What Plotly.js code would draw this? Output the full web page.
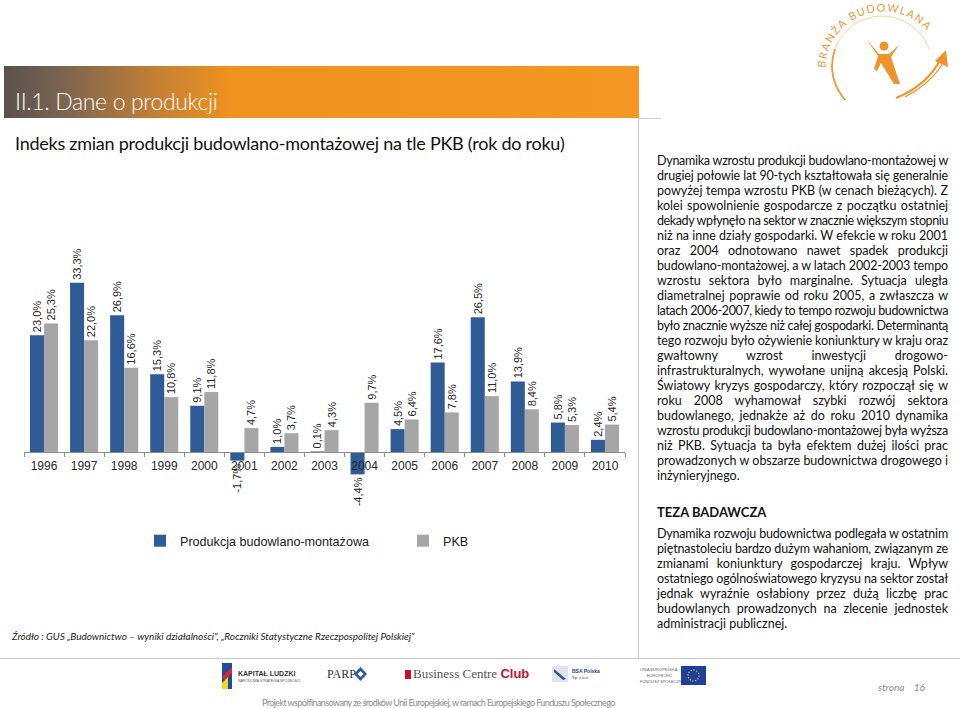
<!DOCTYPE html>
<html lang="pl">
<head>
<meta charset="utf-8">
<script src="https://cdn.plot.ly/plotly-3.0.1.min.js"></script>
<style>
  html, body { margin:0; padding:0; background:#fff; }
  body { width:960px; height:708px; position:relative; overflow:hidden; font-family:'Lato','Open Sans',sans-serif; }
  .abs { position:absolute; }
  #chart { position:absolute; left:0; top:0; width:960px; height:708px; }
  .line { position:absolute; white-space:nowrap; line-height:15px; }
  .col { font-size:12.5px; color:#111; }
</style>
</head>
<body>

<!-- header bar -->
<div class="abs" style="left:4px;top:66px;width:635px;height:52px;background:linear-gradient(to right,#5b514b 0%,#7a6450 9%,#c47f34 24%,#f0921f 36%,#f39622 100%);"></div>
<div class="abs line" data-fit="203" data-mode="exact" style="left:15px;top:86px;line-height:30px;font-size:23px;font-weight:300;color:#fff;"><span>II.1. Dane o produkcji</span></div>
<div class="abs line" data-fit="550" data-mode="exact" style="left:15px;top:131px;line-height:24px;font-size:18px;color:#111;"><span>Indeks zmian produkcji budowlano-montażowej na tle PKB (rok do roku)</span></div>

<!-- chart frame lines -->
<div class="abs" style="left:639px;top:118px;width:22px;height:1px;background:#cfcfcf;"></div>
<div class="abs" style="left:638px;top:118px;width:1px;height:541px;background:#cfcfcf;"></div>
<div class="abs" style="left:0px;top:658px;width:960px;height:1px;background:#c9c9c9;"></div>

<div id="chart"></div>

<!-- source -->
<div class="abs line" data-fit="403" data-mode="exact" style="left:12px;top:629px;font-size:10px;font-style:italic;color:#222;"><span>Źródło : GUS „Budownictwo – wyniki działalności”, „Roczniki Statystyczne Rzeczpospolitej Polskiej”</span></div>

<!-- right column text -->
<div id="txt1"></div>
<div class="abs line col" style="left:657px;top:505px;font-weight:700;font-size:13px;color:#111;">TEZA BADAWCZA</div>
<div id="txt2"></div>

<!-- top-right logo -->
<svg class="abs" style="left:810px;top:0px;" width="150" height="100" viewBox="810 0 150 100">
  <defs>
    <path id="arcText" d="M 825.5 68 A 58 58 0 0 1 941 62"/>
  </defs>
  <path d="M 835 49 A 50 50 0 0 0 882 116" fill="none" stroke="#ee9a3a" stroke-width="1.8"/>
  <path d="M 835 49 A 50 50 0 0 1 929 49" fill="none" stroke="#f5cfa3" stroke-width="0.9"/>
  <text font-family="Lato, sans-serif" font-size="10.8" fill="#ee9a3a" letter-spacing="1.4"><textPath href="#arcText">BRANŻA BUDOWLANA</textPath></text>
  <circle cx="884" cy="46" r="4.5" fill="#f0932a"/>
  <path d="M 867 40 L 879 54 L 889 54 L 899 45 L 891 57 L 900 84 L 894 84 L 881 63 L 877 71 L 874 69 L 878 56 Z" fill="#f0932a"/>
  <path d="M 896 98 Q 928 85 941 58" fill="none" stroke="#f0932a" stroke-width="2"/>
  <path d="M 905 97 Q 933 82 944 61" fill="none" stroke="#f0932a" stroke-width="1.2"/>
  <path d="M 935 61 L 946 50 L 948 67 Z" fill="#f0932a"/>
</svg>

<!-- footer logos -->
<svg class="abs" style="left:220px;top:663px;" width="14" height="28" viewBox="0 0 14 28">
  <path d="M2 0 L12 0 L12 26 L2 26 Z" fill="#1b4f9c"/>
  <path d="M2 14 L12 4 L12 10 L5 17 Z" fill="#e4222e"/>
  <path d="M2 20 L8 14 L8 26 L2 26 Z" fill="#f7d21e"/>
</svg>
<div class="abs" style="left:238px;top:670px;font-family:'Liberation Sans',Arial;font-size:7px;font-weight:700;color:#333;line-height:8px;">KAPITAŁ LUDZKI</div>
<div class="abs" style="left:238px;top:679px;font-family:'Liberation Sans',Arial;font-size:3.5px;color:#555;line-height:4px;">NARODOWA STRATEGIA SPÓJNOŚCI</div>
<div class="abs" style="left:327px;top:667px;font-family:'Liberation Serif',serif;font-size:12px;color:#333;line-height:14px;">PARP</div>
<svg class="abs" style="left:354px;top:667px;" width="13" height="14" viewBox="0 0 13 14">
  <path d="M6.5 0 L13 7 L6.5 14 L0 7 Z" fill="#2a5aa8"/><path d="M6.5 4 L9.5 7 L6.5 10 L3.5 7 Z" fill="#fff"/>
</svg>
<div class="abs" style="left:405px;top:670px;width:6px;height:9px;background:#c8102e;"></div>
<div class="abs" style="left:413px;top:666px;font-family:'Liberation Serif',serif;font-size:13px;color:#555;line-height:16px;">Business Centre <b style="color:#c8102e;font-family:'Liberation Sans',Arial;">Club</b></div>
<svg class="abs" style="left:552px;top:666px;" width="16" height="16" viewBox="0 0 16 16">
  <rect x="0" y="0" width="16" height="16" fill="#dfe3ea"/><path d="M2 3 L14 13 L11 14 L2 6 Z" fill="#3a4f8a"/>
</svg>
<div class="abs" style="left:572px;top:668px;font-family:'Liberation Sans',Arial;font-size:5px;font-weight:700;color:#2a3f7a;line-height:6px;">BSA Polska<br><span style="font-weight:400;font-size:4px;">Sp. z o.o.</span></div>
<div class="abs" style="left:640px;top:667px;font-family:'Liberation Sans',Arial;font-size:4px;color:#666;line-height:6px;">UNIA EUROPEJSKA<br>&nbsp;&nbsp;&nbsp;&nbsp;&nbsp;&nbsp;EUROPEJSKI<br>FUNDUSZ SPOŁECZNY</div>
<svg class="abs" style="left:681px;top:666px;" width="25" height="19" viewBox="0 0 25 19">
  <rect width="25" height="19" fill="#1f3f99"/><circle cx="12.5" cy="9.5" r="5.5" fill="none" stroke="#f5d327" stroke-width="1.2" stroke-dasharray="1.2 1.6"/>
</svg>
<div class="abs line" style="left:878px;top:680px;font-size:10px;font-style:italic;color:#8a8a8a;">strona&nbsp;&nbsp;&nbsp;&nbsp;16</div>
<div class="abs line" data-fit="353" data-mode="exact" style="left:262px;top:695px;font-size:9px;color:#8a8a8a;"><span>Projekt współfinansowany ze środków Unii Europejskiej, w ramach Europejskiego Funduszu Społecznego</span></div>

<script>
// ---------------- chart data ----------------
const years = ['1996','1997','1998','1999','2000','2001','2002','2003','2004','2005','2006','2007','2008','2009','2010'];
const produkcja = [23.0, 33.3, 26.9, 15.3, 9.1, -1.7, 1.0, 0.1, -4.4, 4.5, 17.6, 26.5, 13.9, 5.8, 2.4];
const pkb = [25.3, 22.0, 16.6, 10.8, 11.8, 4.7, 3.7, 4.3, 9.7, 6.4, 7.8, 11.0, 8.4, 5.3, 5.4];
const seriesNames = ['Produkcja budowlano-montażowa', 'PKB'];

// ---------------- text content ----------------
const para1 = [
  'Dynamika wzrostu produkcji budowlano-montażowej w',
  'drugiej połowie lat 90-tych kształtowała się generalnie',
  'powyżej tempa wzrostu PKB (w cenach bieżących). Z',
  'kolei spowolnienie gospodarcze z początku ostatniej',
  'dekady wpłynęło na sektor w znacznie większym stopniu',
  'niż na inne działy gospodarki. W efekcie w roku 2001',
  'oraz 2004 odnotowano nawet spadek produkcji',
  'budowlano-montażowej, a w latach 2002-2003 tempo',
  'wzrostu sektora było marginalne. Sytuacja uległa',
  'diametralnej poprawie od roku 2005, a zwłaszcza w',
  'latach 2006-2007, kiedy to tempo rozwoju budownictwa',
  'było znacznie wyższe niż całej gospodarki. Determinantą',
  'tego rozwoju było ożywienie koniunktury w kraju oraz',
  'gwałtowny wzrost inwestycji drogowo-',
  'infrastrukturalnych, wywołane unijną akcesją Polski.',
  'Światowy kryzys gospodarczy, który rozpoczął się w',
  'roku 2008 wyhamował szybki rozwój sektora',
  'budowlanego, jednakże aż do roku 2010 dynamika',
  'wzrostu produkcji budowlano-montażowej była wyższa',
  'niż PKB. Sytuacja ta była efektem dużej ilości prac',
  'prowadzonych w obszarze budownictwa drogowego i',
  'inżynieryjnego.'
];
const para2 = [
  'Dynamika rozwoju budownictwa podlegała w ostatnim',
  'piętnastoleciu bardzo dużym wahaniom, związanym ze',
  'zmianami koniunktury gospodarczej kraju. Wpływ',
  'ostatniego ogólnoświatowego kryzysu na sektor został',
  'jednak wyraźnie osłabiony przez dużą liczbę prac',
  'budowlanych prowadzonych na zlecenie jednostek',
  'administracji publicznej.'
];

function buildPara(container, lines, top) {
  const host = document.getElementById(container);
  lines.forEach((t, i) => {
    const d = document.createElement('div');
    d.className = 'abs line col';
    d.style.left = '657px';
    d.style.top = (top + i * 15) + 'px';
    d.style.width = '291px';
    d.dataset.fit = '291';
    d.dataset.mode = 'shrink';
    d.dataset.justify = (i < lines.length - 1) ? '1' : '0';
    const s = document.createElement('span');
    s.textContent = t;
    d.appendChild(s);
    host.appendChild(d);
  });
}
buildPara('txt1', para1, 153);
buildPara('txt2', para2, 526);

function fitAll() {
  document.querySelectorAll('[data-fit]').forEach(el => {
    const target = parseFloat(el.dataset.fit);
    const span = el.querySelector('span');
    const w = span.getBoundingClientRect().width;
    const n = Math.max(1, span.textContent.length);
    if (el.dataset.mode === 'exact' || w > target - 0.5) {
      span.style.letterSpacing = ((target - 0.5 - w) / n) + 'px';
    }
    if (el.dataset.justify === '1') {
      el.style.whiteSpace = 'normal';
      el.style.textAlign = 'justify';
      el.style.textAlignLast = 'justify';
    }
  });
}

// ---------------- chart ----------------
const fmt = v => v.toFixed(1).replace('.', ',') + '%';
const W = 960, H = 708;
const px = x => x / W, py = y => 1 - y / H;

const labelFont = {family: 'Liberation Sans, Arial, sans-serif', size: 11, color: '#262626'};
const traces = [
  {
    type: 'bar', x: years, y: produkcja, name: seriesNames[0],
    marker: {color: '#2f5c96'},
    text: produkcja.map(fmt), textposition: 'outside', textangle: -90,
    textfont: labelFont, cliponaxis: false, constraintext: 'none',
    hoverinfo: 'skip', legend: 'legend'
  },
  {
    type: 'bar', x: years, y: pkb, name: seriesNames[1],
    marker: {color: '#a6a6a6'},
    text: pkb.map(fmt), textposition: 'outside', textangle: -90,
    textfont: labelFont, cliponaxis: false, constraintext: 'none',
    hoverinfo: 'skip', legend: 'legend2'
  }
];

const legendFont = {family: 'Liberation Sans, Arial, sans-serif', size: 12.6, color: '#1a1a1a'};
const layout = {
  width: W, height: H,
  margin: {l: 0, r: 0, t: 0, b: 0},
  paper_bgcolor: 'rgba(0,0,0,0)', plot_bgcolor: 'rgba(0,0,0,0)',
  barmode: 'group', bargap: 0.3, bargroupgap: 0,
  showlegend: true,
  xaxis: {
    domain: [px(24), px(625)], anchor: 'free', position: py(452),
    type: 'category', showline: true, linecolor: '#8c8c8c', linewidth: 1,
    ticks: 'outside', tickson: 'boundaries', ticklen: 4, tickcolor: '#8c8c8c',
    ticklabelstandoff: 3,
    showgrid: false, zeroline: false,
    tickfont: {family: 'Liberation Sans, Arial, sans-serif', size: 12, color: '#262626'}
  },
  yaxis: {
    domain: [py(500), py(240)], range: [-9.45, 41.73],
    visible: false, showgrid: false, zeroline: false
  },
  legend: {
    orientation: 'h', x: px(140), y: py(541), xanchor: 'left', yanchor: 'middle',
    font: legendFont, bgcolor: 'rgba(0,0,0,0)', itemwidth: 30
  },
  legend2: {
    orientation: 'h', x: px(403), y: py(541), xanchor: 'left', yanchor: 'middle',
    font: legendFont, bgcolor: 'rgba(0,0,0,0)', itemwidth: 30
  }
};

Plotly.newPlot('chart', traces, layout, {staticPlot: true, displayModeBar: false}).then(() => {
  if (document.fonts && document.fonts.ready) {
    document.fonts.ready.then(fitAll);
  } else { fitAll(); }
});
</script>
</body>
</html>
